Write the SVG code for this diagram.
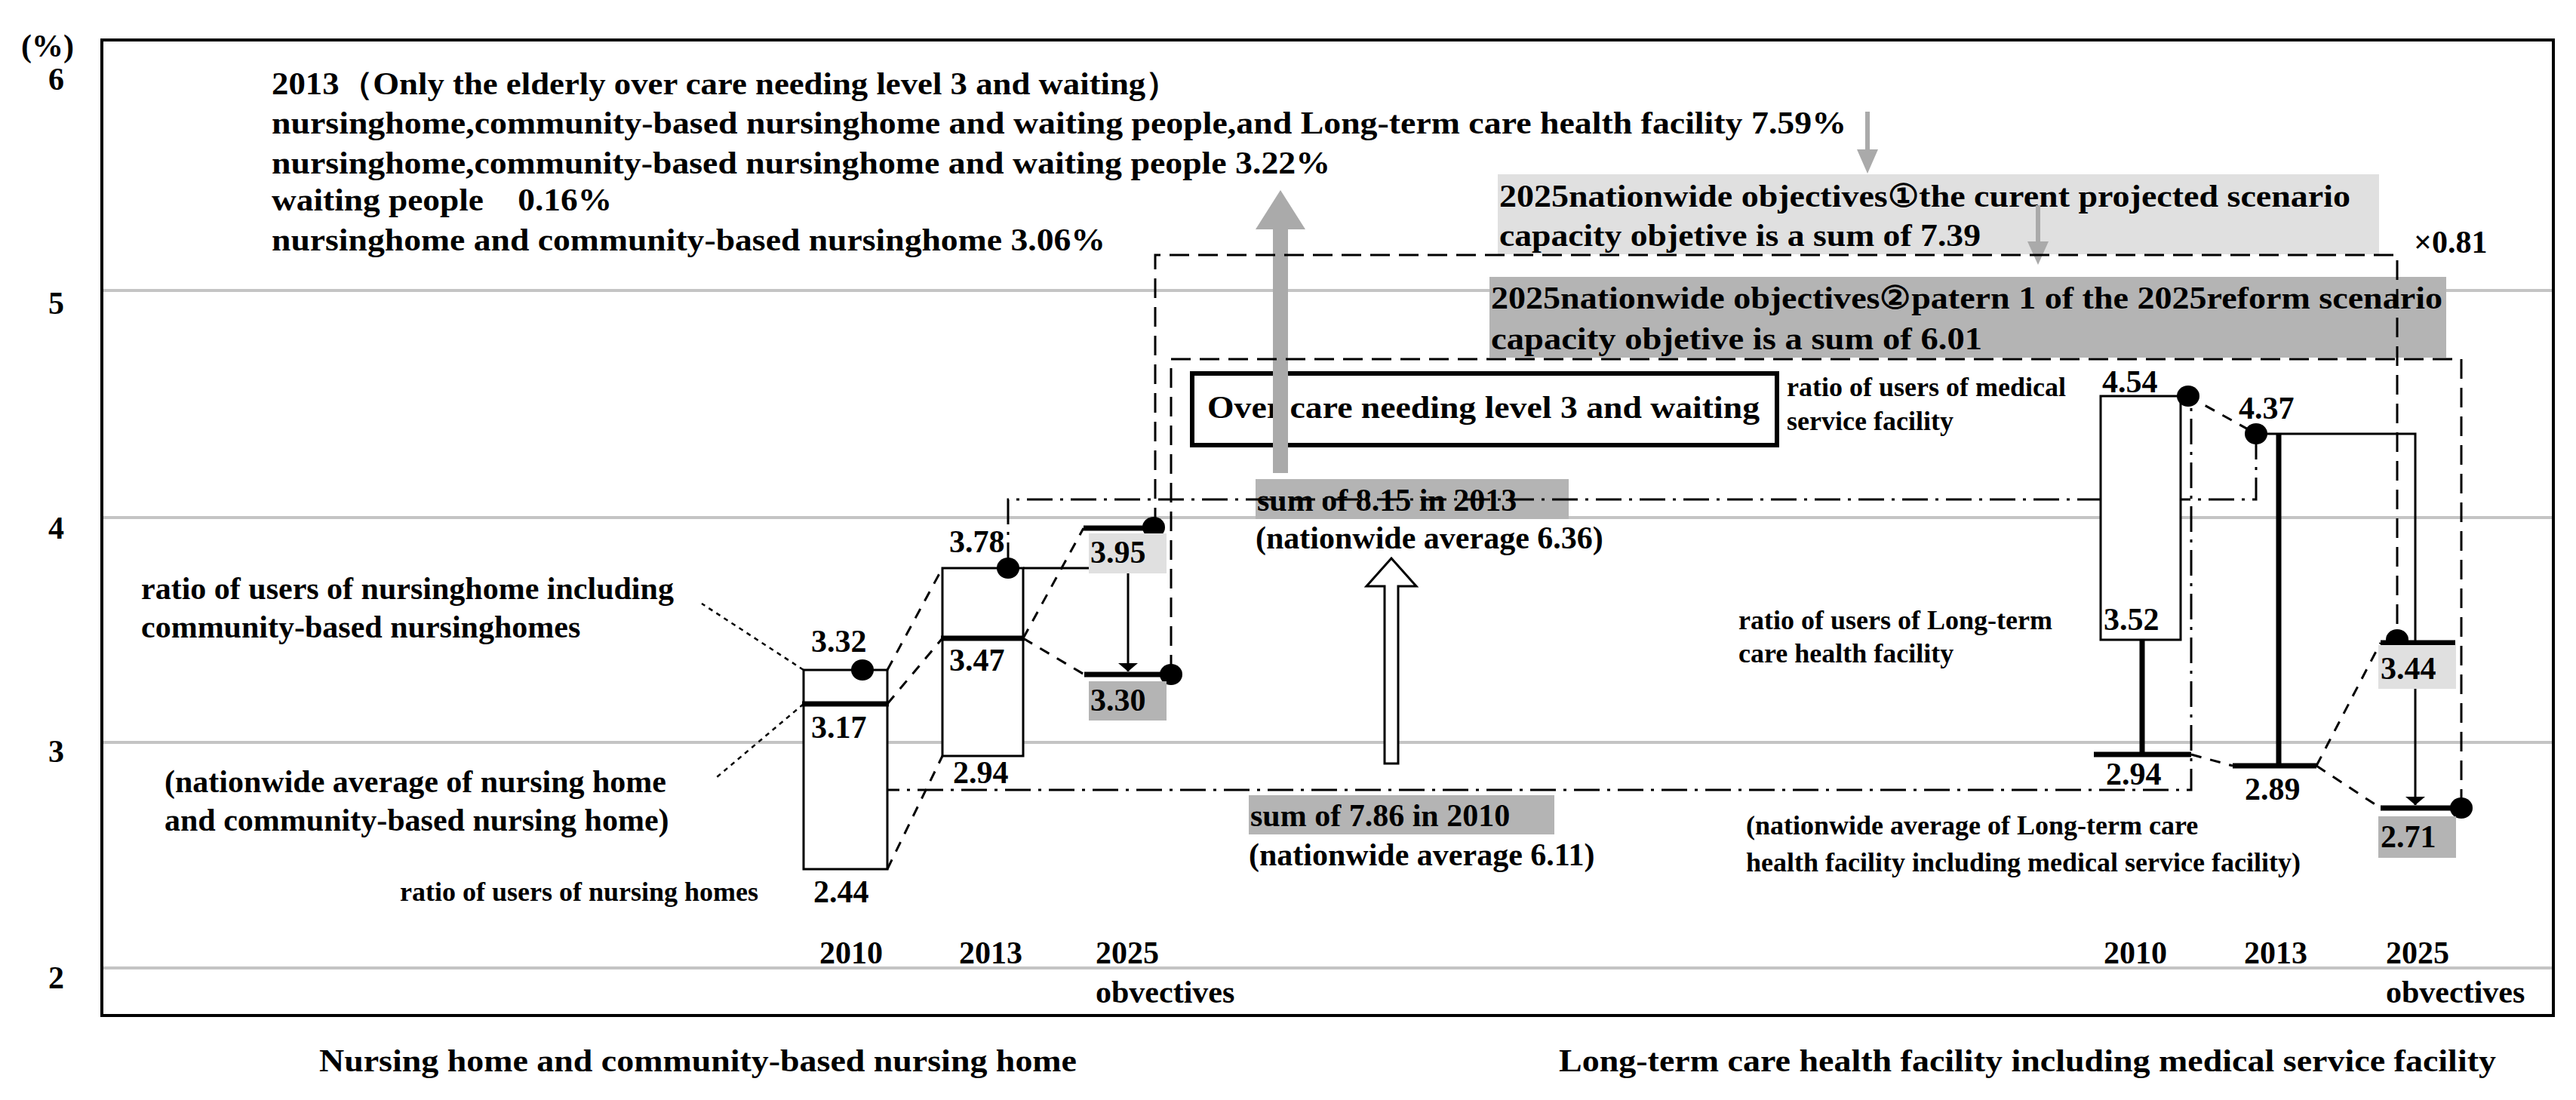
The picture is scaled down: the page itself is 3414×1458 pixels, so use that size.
<svg xmlns="http://www.w3.org/2000/svg" width="3414" height="1458" viewBox="0 0 3414 1458">
<style>
text{font-family:"Liberation Serif","Times New Roman",serif;font-weight:bold;fill:#000}
.t{font-size:42px}.s{font-size:36px}.n{font-size:42px}
.grid{stroke:#c4c4c4;stroke-width:4}
.ln{stroke:#000;stroke-width:3;fill:none}
.thk{stroke:#000;stroke-width:7;fill:none}
.ld{stroke:#000;stroke-width:3;fill:none;stroke-dasharray:26 12}
.dd{stroke:#000;stroke-width:3;fill:none;stroke-dasharray:34 10 4 10}
.sd{stroke:#000;stroke-width:3;fill:none;stroke-dasharray:14 12}
.dt{stroke:#000;stroke-width:2.5;fill:none;stroke-dasharray:6 6}
.bx{fill:#fff;stroke:#000;stroke-width:3}
.lg{fill:#e0e0e0}.dg{fill:#b4b4b4}
</style>
<defs>
<marker id="ah" viewBox="0 0 10 10" refX="10" refY="5" markerWidth="11" markerHeight="26" markerUnits="userSpaceOnUse" orient="auto-start-reverse" preserveAspectRatio="none"><path d="M0,0 L10,5 L0,10 z" fill="#000"/></marker>
</defs>
<rect width="3414" height="1458" fill="#fff"/>
<g id="axes">
<line class="grid" x1="135" y1="385" x2="3384" y2="385"/>
<line class="grid" x1="135" y1="686" x2="3384" y2="686"/>
<line class="grid" x1="135" y1="984" x2="3384" y2="984"/>
<line class="grid" x1="135" y1="1283" x2="3384" y2="1283"/>
<rect x="135" y="53" width="3249" height="1293" fill="none" stroke="#000" stroke-width="4"/>
<text class="t" x="28" y="75">(%)</text>
<text class="t" x="64" y="119">6</text>
<text class="t" x="64" y="416">5</text>
<text class="t" x="64" y="714">4</text>
<text class="t" x="64" y="1010">3</text>
<text class="t" x="64" y="1310">2</text>
</g>
<g id="notes">
<text class="t" x="360" y="125" textLength="1203" lengthAdjust="spacingAndGlyphs">2013（Only the elderly over care needing level 3 and waiting）</text>
<text class="t" x="360" y="177" textLength="2087" lengthAdjust="spacingAndGlyphs">nursinghome,community-based nursinghome and waiting people,and Long-term care health facility 7.59%</text>
<text class="t" x="360" y="230" textLength="1403" lengthAdjust="spacingAndGlyphs">nursinghome,community-based nursinghome and waiting people 3.22%</text>
<text class="t" x="360" y="279" textLength="451" lengthAdjust="spacingAndGlyphs">waiting people　0.16%</text>
<text class="t" x="360" y="332" textLength="1105" lengthAdjust="spacingAndGlyphs">nursinghome and community-based nursinghome 3.06%</text>
</g>
<g id="objective1">
<rect class="lg" x="1985" y="231" width="1168" height="106"/>
<text class="t" x="1987" y="274" textLength="1128" lengthAdjust="spacingAndGlyphs">2025nationwide objectives①the curent projected scenario</text>
<text class="t" x="1987" y="326" textLength="638" lengthAdjust="spacingAndGlyphs">capacity objetive is a sum of 7.39</text>
</g>
<g id="objective2">
<rect class="dg" x="1974" y="367" width="1268" height="107"/>
<text class="t" x="1976" y="409" textLength="1261" lengthAdjust="spacingAndGlyphs">2025nationwide objectives②patern 1 of the 2025reform scenario</text>
<text class="t" x="1976" y="463" textLength="651" lengthAdjust="spacingAndGlyphs">capacity objetive is a sum of  6.01</text>
</g>
<text class="t" x="3199" y="335">×0.81</text>
<g id="overcare">
<rect x="1580" y="495" width="775" height="95" fill="#fff" stroke="#000" stroke-width="6"/>
<text class="t" x="1600" y="554" textLength="732" lengthAdjust="spacingAndGlyphs">Over care needing level 3 and waiting</text>
</g>
<g id="sums">
<rect class="dg" x="1664" y="635" width="415" height="53"/>
<text class="t" x="1666" y="677">sum of 8.15 in 2013</text>
<text class="t" x="1664" y="727">(nationwide average 6.36)</text>
<rect class="dg" x="1655" y="1054" width="405" height="52"/>
<text class="t" x="1657" y="1095">sum of 7.86 in 2010</text>
<text class="t" x="1655" y="1147">(nationwide average 6.11)</text>
</g>
<g id="connectors">
<!-- gray arrows -->
<path d="M1687,627 V304 H1664 L1697,252 L1730,304 H1707 V627 Z" fill="#aaa"/>
<line x1="2475" y1="148" x2="2475" y2="200" stroke="#aaa" stroke-width="6"/>
<path d="M2461,198 L2489,198 L2475,230 Z" fill="#aaa"/>
<line x1="2701" y1="272" x2="2701" y2="322" stroke="#aaa" stroke-width="6"/>
<path d="M2687,320 L2715,320 L2701,351 Z" fill="#aaa"/>
<!-- hollow arrow -->
<path d="M1835,1012 V777 H1811 L1844,740 L1877,777 H1853 V1012 Z" fill="#fff" stroke="#000" stroke-width="3"/>
<!-- sum lines -->
<path class="ld" d="M1531,699 V338 H3177 V848"/>
<path class="ld" d="M1552,894 V476 H3262 V1071"/>
<path class="dd" d="M1143,888 V1047 H2904 V525"/>
<path class="dd" d="M1336,753 V662 H2990 V575"/>
<!-- left group -->
<rect class="bx" x="1065" y="888" width="111" height="264"/>
<line class="thk" x1="1063" y1="933" x2="1178" y2="933"/>
<rect class="bx" x="1249" y="753" width="107" height="249"/>
<line class="thk" x1="1247" y1="846" x2="1358" y2="846"/>
<line class="ln" x1="1356" y1="753" x2="1443" y2="753"/>
<line class="thk" x1="1436" y1="700" x2="1529" y2="700"/>
<line class="thk" x1="1437" y1="894" x2="1552" y2="894"/>
<line class="ln" x1="1495" y1="760" x2="1495" y2="890" marker-end="url(#ah)"/>
<path class="sd" d="M1176,888 L1249,753"/>
<path class="sd" d="M1176,933 L1249,846"/>
<path class="sd" d="M1176,1152 L1249,1002"/>
<path class="sd" d="M1356,846 L1436,700"/>
<path class="sd" d="M1356,846 L1437,894"/>
<path class="dt" d="M1065,888 L930,800"/>
<path class="dt" d="M1065,933 L950,1030"/>
<!-- right group -->
<rect class="bx" x="2784" y="525" width="106" height="323"/>
<line class="thk" x1="2839" y1="848" x2="2839" y2="1000"/>
<line class="thk" x1="2775" y1="1000" x2="2904" y2="1000"/>
<path class="ln" d="M2990,575 H3201 V852"/>
<line class="thk" x1="3020" y1="575" x2="3020" y2="1015"/>
<line class="thk" x1="2959" y1="1015" x2="3070" y2="1015"/>
<line class="thk" x1="3155" y1="852" x2="3254" y2="852"/>
<line class="thk" x1="3155" y1="1071" x2="3262" y2="1071"/>
<line class="ln" x1="3201" y1="913" x2="3201" y2="1067" marker-end="url(#ah)"/>
<path class="sd" d="M2900,525 L2990,575"/>
<path class="sd" d="M2904,1000 L2959,1015"/>
<path class="sd" d="M3070,1015 L3155,852"/>
<path class="sd" d="M3070,1015 L3155,1071"/>
</g>
<g id="dots" fill="#000">
<ellipse cx="1143" cy="888" rx="15" ry="14"/>
<ellipse cx="1336" cy="753" rx="15" ry="14"/>
<ellipse cx="1529" cy="699" rx="15" ry="14"/>
<ellipse cx="1552" cy="894" rx="15" ry="14"/>
<ellipse cx="2900" cy="525" rx="15" ry="14"/>
<ellipse cx="2990" cy="575" rx="15" ry="14"/>
<ellipse cx="3177" cy="848" rx="15" ry="14"/>
<ellipse cx="3262" cy="1071" rx="15" ry="14"/>
</g>
<g id="left-labels">
<text class="t" x="187" y="794">ratio of users of nursinghome including</text>
<text class="t" x="187" y="845">community-based nursinghomes</text>
<text class="t" x="218" y="1050">(nationwide average of nursing home</text>
<text class="t" x="218" y="1101">and community-based nursing home)</text>
<text class="s" x="530" y="1194">ratio of users of nursing homes</text>
<text class="n" x="1075" y="864">3.32</text>
<text class="n" x="1075" y="978">3.17</text>
<text class="n" x="1078" y="1196">2.44</text>
<text class="n" x="1258" y="732">3.78</text>
<text class="n" x="1258" y="889">3.47</text>
<text class="n" x="1263" y="1038">2.94</text>
<rect class="lg" x="1443" y="707" width="103" height="53"/>
<text class="n" x="1445" y="746">3.95</text>
<rect class="dg" x="1443" y="903" width="103" height="52"/>
<text class="n" x="1445" y="942">3.30</text>
<text class="t" x="1086" y="1277">2010</text>
<text class="t" x="1271" y="1277">2013</text>
<text class="t" x="1452" y="1277">2025</text>
<text class="t" x="1452" y="1329">obvectives</text>
<text class="t" x="423" y="1420" textLength="1004" lengthAdjust="spacingAndGlyphs">Nursing home and community-based nursing home</text>
</g>
<g id="right-labels">
<text class="s" x="2368" y="525">ratio of users of medical</text>
<text class="s" x="2368" y="570">service facility</text>
<text class="s" x="2304" y="834">ratio of users of Long-term</text>
<text class="s" x="2304" y="878">care health facility</text>
<text class="s" x="2314" y="1106">(nationwide average of Long-term care</text>
<text class="s" x="2314" y="1155">health facility including medical service facility)</text>
<text class="n" x="2786" y="520">4.54</text>
<text class="n" x="2967" y="555">4.37</text>
<text class="n" x="2788" y="835">3.52</text>
<text class="n" x="2791" y="1040">2.94</text>
<text class="n" x="2975" y="1060">2.89</text>
<rect class="lg" x="3152" y="855" width="103" height="58"/>
<text class="n" x="3155" y="900">3.44</text>
<rect class="dg" x="3152" y="1082" width="103" height="55"/>
<text class="n" x="3155" y="1123">2.71</text>
<text class="t" x="2788" y="1277">2010</text>
<text class="t" x="2974" y="1277">2013</text>
<text class="t" x="3162" y="1277">2025</text>
<text class="t" x="3162" y="1329">obvectives</text>
<text class="t" x="2066" y="1420" textLength="1242" lengthAdjust="spacingAndGlyphs">Long-term care health facility including medical service facility</text>
</g>
</svg>
